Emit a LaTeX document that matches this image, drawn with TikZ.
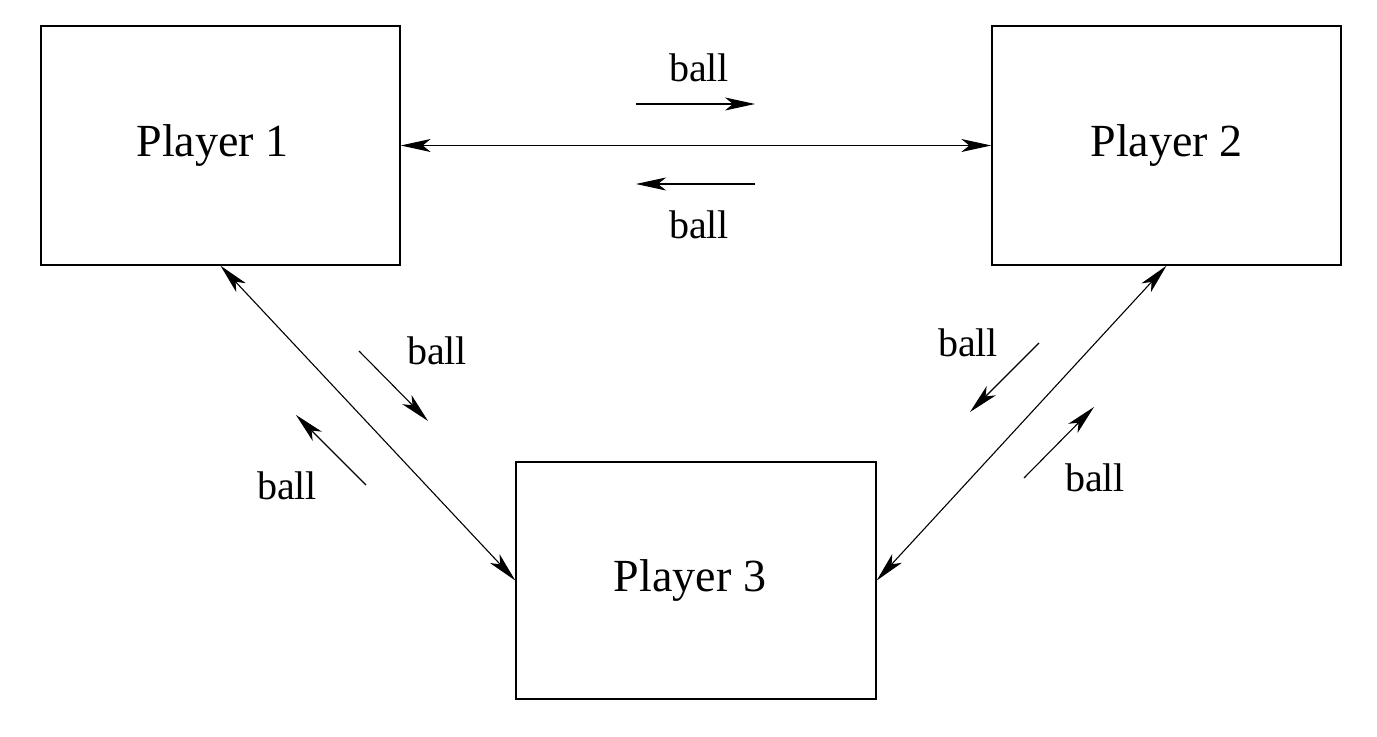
\documentclass[tikz,border=0pt]{standalone}
\usepackage{fontspec}
\setmainfont{Liberation Serif}
\usepackage{tikz}
\usetikzlibrary{arrows.meta,positioning}
\tikzset{
  playerbox/.style={rectangle,draw=black,line width=0.7pt,inner sep=0pt,
    minimum width=#1,minimum height=119.5pt,font=\fontsize{23}{28}\selectfont},
  passarrow/.style={{Stealth[length=15pt,width=6.5pt,inset=4pt]}-{Stealth[length=15pt,width=6.5pt,inset=4pt]},
    line width=0.55pt},
  ballarrow/.style={-{Stealth[length=15pt,width=6.5pt,inset=4pt]},line width=0.55pt},
  balllabel/.style={anchor=base,inner sep=0pt,font=\fontsize{20}{24}\selectfont},
}
\begin{document}
\begin{tikzpicture}[x=0.5pt,y=-0.5pt]
\useasboundingbox (0,0) rectangle (1377,737);

%% ── players ─────────────────────────────────────────────────────────────
\node[playerbox=179.5pt] (p1) at (220.5,145.5) {\hspace{-8pt}Player 1};
\node[playerbox=174.5pt] (p2) at (1166.5,145.5) {Player 2};
\node[playerbox=180pt,minimum height=118.5pt] (p3) at (696,580.5) {\hspace{-6pt}Player 3};

%% ── passes ──────────────────────────────────────────────────────────────
\draw[passarrow] (p1.east) -- (p2.west);
\draw[passarrow] (p1.south) -- (p3.west);
\draw[passarrow] (p2.south) -- (p3.east);

%% ── ball directions, player 1 -- player 2 ───────────────────────────────
\coordinate (a12s) at (636,104);  \coordinate (a12e) at (755,104);
\coordinate (a21s) at (755,184);  \coordinate (a21e) at (636,184);
\draw[ballarrow] (a12s) -- (a12e);
\draw[ballarrow] (a21s) -- (a21e);
\node[balllabel] (b12) at (699,82) {ball};
\node[balllabel] (b21) at (699,239) {ball};

%% ── ball directions, player 1 -- player 3 ───────────────────────────────
\coordinate (a13s) at (359,351);  \coordinate (a13e) at (428,421);
\coordinate (a31s) at (366,485);  \coordinate (a31e) at (296,415);
\draw[ballarrow] (a13s) -- (a13e);
\draw[ballarrow] (a31s) -- (a31e);
\node[balllabel] (b13) at (437,365) {ball};
\node[balllabel] (b31) at (287,500) {ball};

%% ── ball directions, player 2 -- player 3 ───────────────────────────────
\coordinate (a23s) at (1039,343); \coordinate (a23e) at (970,412);
\coordinate (a32s) at (1024,478); \coordinate (a32e) at (1094,407);
\draw[ballarrow] (a23s) -- (a23e);
\draw[ballarrow] (a32s) -- (a32e);
\node[balllabel] (b23) at (968,357) {ball};
\node[balllabel] (b32) at (1095,492) {ball};

\end{tikzpicture}
\end{document}
